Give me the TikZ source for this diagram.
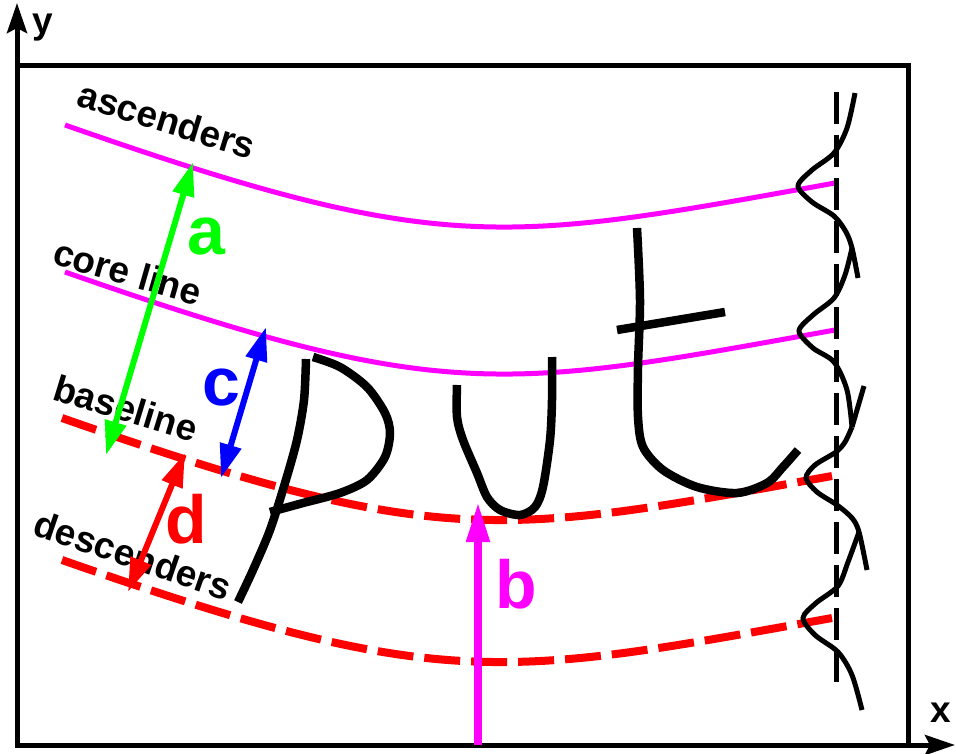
\documentclass[tikz,border=0pt]{standalone}
\usepackage{fontspec}
\setmainfont{Liberation Sans}
\usetikzlibrary{arrows.meta}
\definecolor{pmag}{RGB}{255,0,255}
\definecolor{pgreen}{RGB}{0,255,0}
\definecolor{pred}{RGB}{255,0,0}
\definecolor{pblue}{RGB}{0,0,255}

\begin{document}
\begin{tikzpicture}[
    x=1pt, y=-1pt,
    frame/.style={line width=5pt},
    axis/.style={line width=5pt, -{Stealth[length=30pt, width=20pt, inset=5pt]}},
    zone/.style={pmag, line width=5pt},
    limit/.style={pred, line width=8pt, dash pattern=on 36pt off 11pt},
    pen/.style={line width=8.5pt, line join=round},
    profile/.style={line width=5pt},
    axisline/.style={line width=5pt, dash pattern=on 32pt off 11pt},
    dist/.style={line width=6pt, {Triangle[length=34pt, width=21pt]}-{Triangle[length=34pt, width=21pt]}},
    word/.style={font=\fontsize{37}{40}\selectfont\bfseries},
    tag/.style={font=\fontsize{68}{72}\selectfont\bfseries}
]
    \useasboundingbox (0,0) rectangle (956,753);

    % axes and frame
    \coordinate (O) at (17,745);
    \coordinate (yEnd) at (17,3);
    \coordinate (xEnd) at (955,745);
    \draw[frame] (17,65) rectangle (908,745);
    \draw[axis] (O) -- (yEnd);
    \draw[axis] (O) -- (xEnd);
    \node[word] (ylab) at (43,28) {y};
    \node[word] (xlab) at (941,713) {x};

    % reference lines (same shape, shifted down)
    \draw[zone] (65,125) .. controls +(380,133) and +(-330,59.4) .. (835,183);
    \draw[zone] (65,272) .. controls +(380,133) and +(-330,59.4) .. (835,330);
    \draw[limit] (62,418) .. controls +(380,133) and +(-330,59.4) .. (832,476);
    \draw[limit] (62,560) .. controls +(380,133) and +(-330,59.4) .. (832,618);

    % line labels
    \node[word, rotate=-17] (asc) at (167,120) {ascenders};
    \node[word, rotate=-16] (core) at (128,272) {core line};
    \node[word, rotate=-17] (base) at (126,408) {baseline};
    \node[word, rotate=-19] (desc) at (133,555) {descenders};

    % handwritten word
    \draw[pen] plot[smooth] coordinates {(306,359) (304,400) (297,440) (285,483) (270,530) (253,570) (238,602)};
    \draw[pen] plot[smooth] coordinates {(313,357) (340,367) (367,387) (385,413) (390,433) (385,457) (367,480) (340,493) (303,503) (270,512)};
    \draw[pen] plot[smooth] coordinates {(457,385) (457,417) (463,440) (477,473) (487,497) (500,510) (520,515) (535,507) (543,487) (550,440) (552,400) (552,357)};
    \draw[pen] plot[smooth] coordinates {(637,228) (640,300) (638,367) (638,417) (643,447) (663,470) (697,487) (737,493) (767,483) (783,467) (798,450)};
    \draw[pen] (617,330) -- (725,312);

    % projection profile
    \draw[axisline] (836,92) -- (836,682);
    \draw[profile] plot[smooth] coordinates {(855,93) (847,128) (834,153) (812,170) (798,186) (812,202) (834,216) (846,232) (852,248) (858,278)};
    \draw[profile] plot[smooth] coordinates {(852,248) (845,275) (834,298) (813,315) (799,331) (813,348) (834,362) (847,390) (852,427)};
    \draw[profile] (852,427) -- (864,386);
    \draw[profile] plot[smooth] coordinates {(852,427) (845,442) (836,452) (815,465) (806,478) (817,492) (837,505) (852,518) (859,532) (867,570)};
    \draw[profile] plot[smooth] coordinates {(859,532) (848,562) (838,586) (816,603) (803,618) (815,635) (838,652) (852,675) (862,710)};

    % distances
    \coordinate (aTop) at (193,162);
    \coordinate (aBot) at (106,455);
    \coordinate (cTop) at (266,327);
    \coordinate (cBot) at (221,478);
    \coordinate (dTop) at (185,453);
    \coordinate (dBot) at (128,592);
    \coordinate (bTip) at (478,502);
    \coordinate (bTail) at (478,745);
    \draw[dist, pgreen] (aBot) -- (aTop);
    \draw[dist, pblue] (cBot) -- (cTop);
    \draw[dist, pred] (dBot) -- (dTop);
    \draw[pmag, line width=8pt, -{Triangle[length=40pt, width=22pt]}] (bTail) -- (bTip);

    \node[tag, pgreen] (a) at (206,237) {a};
    \node[tag, pmag] (b) at (516,584) {b};
    \node[tag, pblue] (c) at (221,388) {c};
    \node[tag, pred] (d) at (186,519) {d};
\end{tikzpicture}
\end{document}
